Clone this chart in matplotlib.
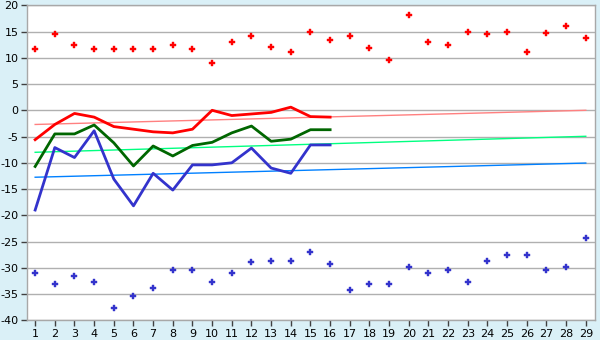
import matplotlib
matplotlib.use("Agg")
import matplotlib.pyplot as plt

categories = list(range(1, 30))

max_points = [11.7, 14.5, 12.4, 11.7, 11.7, 11.7, 11.7, 12.4, 11.7, 9.1,
              13.1, 14.1, 12.0, 11.2, 15.0, 13.3, 14.1, 11.8, 9.5, 18.1,
              13.1, 12.4, 15.0, 14.5, 15.0, 11.2, 14.7, 16.0, 13.7]
min_points = [-31.0, -33.1, -31.6, -32.8, -37.7, -35.4, -33.9, -30.5, -30.5, -32.8,
              -31.0, -28.9, -28.7, -28.7, -27.0, -29.3, -34.3, -33.1, -33.1, -29.9,
              -31.0, -30.5, -32.8, -28.8, -27.6, -27.6, -30.5, -29.9, -24.4]

line_days = list(range(1, 17))
red_line = [-5.6, -2.7, -0.6, -1.3, -3.1, -3.6, -4.1, -4.3, -3.6, 0.0,
            -1.0, -0.7, -0.4, 0.6, -1.2, -1.3]
green_line = [-10.7, -4.5, -4.5, -2.8, -6.2, -10.6, -6.8, -8.7, -6.7, -6.1,
              -4.3, -3.0, -5.9, -5.5, -3.7, -3.7]
blue_line = [-19.0, -7.1, -9.0, -3.9, -13.1, -18.2, -12.0, -15.2, -10.4, -10.4,
             -10.0, -7.2, -11.0, -12.0, -6.6, -6.6]

trend_days = [1, 29]
red_trend = [-2.7, 0.0]
green_trend = [-8.0, -4.95]
blue_trend = [-12.75, -10.05]

yticks = list(range(-40, 21, 5))

bg = "#DAF0F7"
fig = plt.figure(figsize=(6, 3.4), dpi=100, facecolor=bg)
ax = fig.add_axes([0.0445, 0.058, 0.9472, 0.9264])
ax.set_facecolor("white")

for v in yticks:
    ax.axhline(v, color="#B0B0B0", lw=1.0, zorder=0)

ax.plot(trend_days, red_trend, color="#FF8080", lw=1.0, zorder=2)
ax.plot(trend_days, green_trend, color="#00FF80", lw=1.0, zorder=2)
ax.plot(trend_days, blue_trend, color="#0080FF", lw=1.0, zorder=2)

ax.plot(line_days, red_line, color="#FF0000", lw=2.0, zorder=3)
ax.plot(line_days, green_line, color="#006600", lw=2.0, zorder=3)
ax.plot(line_days, blue_line, color="#3333CC", lw=2.0, zorder=3)

ax.plot(categories, max_points, linestyle="none", marker="P", color="#FF0000",
        markersize=5, markeredgewidth=0.3, markeredgecolor="#FF0000", zorder=4)
ax.plot(categories, min_points, linestyle="none", marker="P", color="#3333CC",
        markersize=5, markeredgewidth=0.3, markeredgecolor="#3333CC", zorder=4)

ax.set_xlim(0.57, 29.47)
ax.set_ylim(-40, 20)
ax.set_xticks(categories)
ax.set_xticklabels([str(c) for c in categories])
ax.set_yticks(yticks)
ax.set_yticklabels([str(v) for v in yticks])

for s in ax.spines.values():
    s.set_color("#A8A8A8")
    s.set_linewidth(1.0)

ax.tick_params(axis="both", direction="out", length=4, width=1, color="#404040",
               labelsize=8, labelcolor="black", pad=2)

fig.savefig("out.png", dpi=100, facecolor=bg)
